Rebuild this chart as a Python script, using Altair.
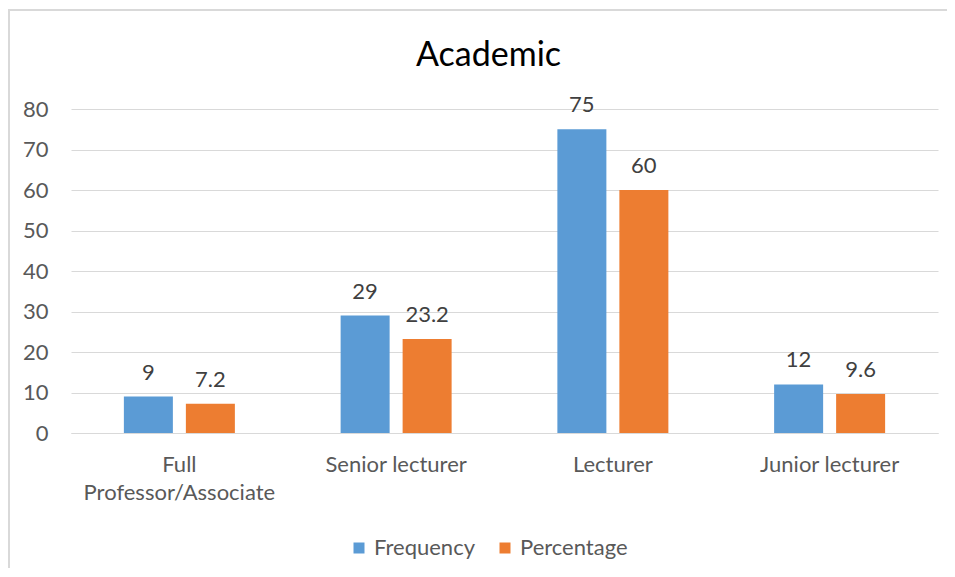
import altair as alt
import pandas as pd

categories = ["Full Professor/Associate", "Senior lecturer", "Lecturer", "Junior lecturer"]
series = ["Frequency", "Percentage"]
frequency = [9, 29, 75, 12]
percentage = [7.2, 23.2, 60, 9.6]
colors = ["#5B9BD5", "#ED7D31"]

rows = []
for c, f, p in zip(categories, frequency, percentage):
    rows.append({"category": c, "series": "Frequency", "value": f})
    rows.append({"category": c, "series": "Percentage", "value": p})
df = pd.DataFrame(rows)

FONT = "Lato"
FS = 22
W, H = 867, 324

x_enc = alt.X(
    "category:N",
    sort=categories,
    scale=alt.Scale(paddingInner=0.488, paddingOuter=0.244),
    axis=alt.Axis(
        title=None,
        labelAngle=0,
        ticks=False,
        domain=True,
        domainColor="#D9D9D9",
        domainWidth=1,
        labelPadding=21,
        labelFontSize=FS,
        labelColor="#595959",
        labelFont=FONT,
        labelLineHeight=28,
        labelBaseline="top",
        labelLimit=0,
        labelExpr="datum.value == 'Full Professor/Associate' ? ['Full', 'Professor/Associate'] : datum.value",
    ),
)
xoff = alt.XOffset("series:N", sort=series, scale=alt.Scale(paddingInner=0.21))
y_enc = alt.Y(
    "value:Q",
    scale=alt.Scale(domain=[0, 80]),
    axis=alt.Axis(
        title=None,
        values=[0, 10, 20, 30, 40, 50, 60, 70, 80],
        ticks=False,
        domain=False,
        grid=True,
        gridColor="#D9D9D9",
        gridWidth=1,
        labelPadding=23,
        labelFontSize=FS,
        labelColor="#595959",
        labelFont=FONT,
    ),
)
color_enc = alt.Color(
    "series:N",
    sort=series,
    scale=alt.Scale(domain=series, range=colors),
    legend=alt.Legend(
        title=None,
        orient="none",
        direction="horizontal",
        legendX=277,
        legendY=428,
        symbolType="square",
        symbolSize=121,
        symbolStrokeWidth=0,
        labelFontSize=FS,
        labelFont=FONT,
        labelColor="#595959",
        labelOffset=4,
        columnPadding=19,
    ),
)

base = alt.Chart(df)
bars = base.mark_bar(size=49).encode(x=x_enc, xOffset=xoff, y=y_enc, color=color_enc)
labels = base.mark_text(baseline="alphabetic", dy=-17, fontSize=FS, font=FONT, color="#404040").encode(
    x=x_enc, xOffset=xoff, y=y_enc, text=alt.Text("value:Q")
)
frame_left = base.mark_rule(stroke="#D9D9D9", strokeWidth=2).encode(
    x=alt.value(-62), y=alt.value(-99), y2=alt.value(H + 135)
)
frame_top = base.mark_rule(stroke="#D9D9D9", strokeWidth=1.5).encode(
    x=alt.value(-63), x2=alt.value(W + 9), y=alt.value(-99)
)

chart = (
    alt.layer(frame_left, frame_top, bars, labels)
    .properties(
        width=W,
        height=H,
        autosize=alt.AutoSizeParams(type="none"),
        padding={"left": 63, "top": 101, "right": 9, "bottom": 136},
        title=alt.TitleParams(
            "Academic",
            fontSize=34,
            font=FONT,
            fontWeight="normal",
            color="#000000",
            anchor="middle",
            frame="group",
            baseline="alphabetic",
            dx=-16,
            dy=91,
            offset=0,
        ),
    )
    .configure_view(stroke=None)
)

chart.save("out.html", embed_options={"renderer": "svg", "actions": False})
